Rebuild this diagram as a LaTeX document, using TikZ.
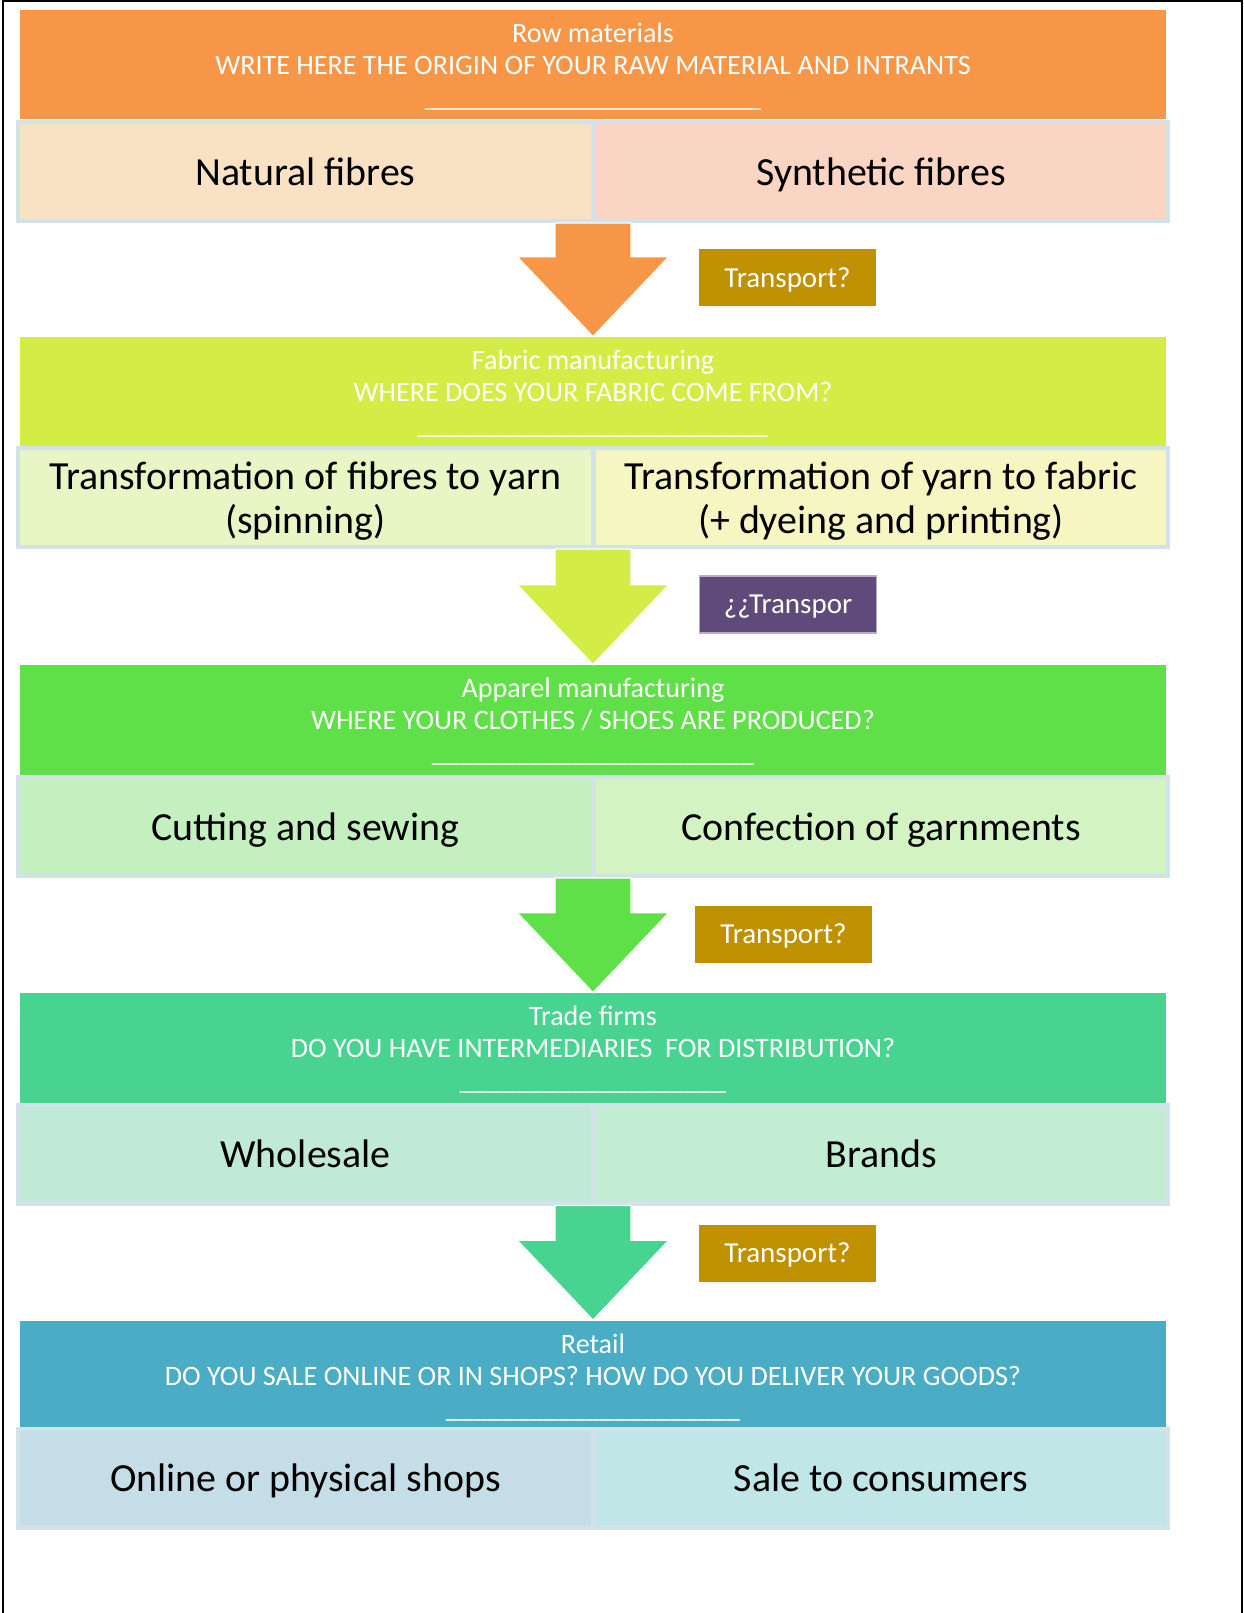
\documentclass[tikz,border=0pt]{standalone}
\usepackage{fontspec}
\setmainfont{Carlito}
\usetikzlibrary{calc}
\definecolor{rowOrange}{HTML}{F79646}
\definecolor{natFill}{HTML}{F9E2C4}
\definecolor{synFill}{HTML}{FAD5C3}
\definecolor{fabGreen}{HTML}{D4EC46}
\definecolor{yarnFill}{HTML}{E8F5C4}
\definecolor{dyeFill}{HTML}{F5F6C1}
\definecolor{appGreen}{HTML}{5FE048}
\definecolor{cutFill}{HTML}{C3F0BE}
\definecolor{confFill}{HTML}{D4F3C3}
\definecolor{tradeGreen}{HTML}{48D490}
\definecolor{wholeFill}{HTML}{C0EAD7}
\definecolor{brandFill}{HTML}{C2EDD3}
\definecolor{retailBlue}{HTML}{4BACC6}
\definecolor{shopFill}{HTML}{C4DDE6}
\definecolor{saleFill}{HTML}{C1E6E7}
\definecolor{cellLine}{HTML}{D3E2E8}
\definecolor{transGold}{HTML}{BF9000}
\definecolor{transPurple}{HTML}{604A7B}
\newcommand\blankline[1]{\foreach \i in {1,...,#1}{\_}}
\begin{document}
\begin{tikzpicture}[x=0.02cm, y=-0.02cm,
  header/.style={minimum width=22.92cm, minimum height=2.2cm, inner sep=0pt,
    text=white, align=center, font=\fontsize{16}{18.2}\selectfont,
    execute at begin node={\rule{0pt}{15.8pt}}, text depth=-1.5pt},
  cell/.style={draw=cellLine, line width=2.3pt, minimum width=11.5cm,
    minimum height=1.98cm, inner sep=0pt, align=center,
    font=\fontsize{22.7}{25}\selectfont, text depth=0pt},
  tag/.style={minimum width=3.54cm, minimum height=1.14cm, inner sep=0pt,
    text=white, font=\fontsize{16.5}{18}\selectfont, text depth=0pt},
  flow/.style={draw=white, line width=0.8pt}]
\useasboundingbox (0,0) rectangle (1244,1613);
\draw [line width=1.2pt] (3,1613) -- (3,1) -- (1242,1) -- (1242,1613);
% raw materials
\node [header, fill=rowOrange] (row) at (593,64.5) {Row materials\\WRITE HERE THE ORIGIN OF YOUR RAW MATERIAL AND INTRANTS\\\blankline{24}};
\node [cell, fill=natFill] (nat) at (305.5,171.5) {Natural fibres};
\node [cell, fill=synFill] (syn) at (881,171.5) {Synthetic fibres};
% fabric
\node [header, fill=fabGreen] (fab) at (593,392) {Fabric manufacturing\\WHERE DOES YOUR FABRIC COME FROM?\\\blankline{25}};
\node [cell, fill=yarnFill] (yarn) at (305.5,497.5) {Transformation of fibres to yarn\\(spinning)};
\node [cell, fill=dyeFill] (dye) at (881,497.5) {Transformation of yarn to fabric\\(+ dyeing and printing)};
% apparel
\node [header, fill=appGreen] (app) at (593,720) {Apparel manufacturing\\WHERE YOUR CLOTHES / SHOES ARE PRODUCED?\\\blankline{23}};
\node [cell, fill=cutFill] (cut) at (305.5,826.5) {Cutting and sewing};
\node [cell, fill=confFill] (conf) at (881,826.5) {Confection of garnments};
% trade
\node [header, fill=tradeGreen] (trade) at (593,1048) {Trade firms\\DO YOU HAVE INTERMEDIARIES \ FOR DISTRIBUTION?\\\blankline{19}};
\node [cell, fill=wholeFill] (whole) at (305.5,1154) {Wholesale};
\node [cell, fill=brandFill] (brand) at (881,1154) {Brands};
% retail
\node [header, fill=retailBlue] (retail) at (593,1375.5) {Retail\\DO YOU SALE ONLINE OR IN SHOPS? HOW DO YOU DELIVER YOUR GOODS?\\\blankline{21}};
\node [cell, fill=shopFill] (shop) at (305.5,1478) {Online or physical shops};
\node [cell, fill=saleFill] (sale) at (881,1478) {Sale to consumers};
% arrows
\filldraw [flow, fill=rowOrange] ($(fab.north |- nat.south)+(-38,0)$) -- ($(fab.north)+(-38,-80)$) -- ($(fab.north)+(-76,-80)$) -- (fab.north) -- ($(fab.north)+(76,-80)$) -- ($(fab.north)+(38,-80)$) -- ($(fab.north |- nat.south)+(38,0)$) -- cycle;
\filldraw [flow, fill=fabGreen] ($(app.north |- yarn.south)+(-38,0)$) -- ($(app.north)+(-38,-80)$) -- ($(app.north)+(-76,-80)$) -- (app.north) -- ($(app.north)+(76,-80)$) -- ($(app.north)+(38,-80)$) -- ($(app.north |- yarn.south)+(38,0)$) -- cycle;
\filldraw [flow, fill=appGreen] ($(trade.north |- cut.south)+(-38,0)$) -- ($(trade.north)+(-38,-80)$) -- ($(trade.north)+(-76,-80)$) -- (trade.north) -- ($(trade.north)+(76,-80)$) -- ($(trade.north)+(38,-80)$) -- ($(trade.north |- cut.south)+(38,0)$) -- cycle;
\filldraw [flow, fill=tradeGreen] ($(retail.north |- whole.south)+(-38,0)$) -- ($(retail.north)+(-38,-80)$) -- ($(retail.north)+(-76,-80)$) -- (retail.north) -- ($(retail.north)+(76,-80)$) -- ($(retail.north)+(38,-80)$) -- ($(retail.north |- whole.south)+(38,0)$) -- cycle;
% transport
\node [tag, fill=transGold] (tr1) at (787.5,277.5) {Transport?};
\node [tag, fill=transPurple, draw=transPurple!45!white, line width=0.6pt] (tr2) at (788,604.5) {¿¿Transpor};
\node [tag, fill=transGold] (tr3) at (783.5,934) {Transport?};
\node [tag, fill=transGold] (tr4) at (787.5,1253) {Transport?};
\end{tikzpicture}
\end{document}
